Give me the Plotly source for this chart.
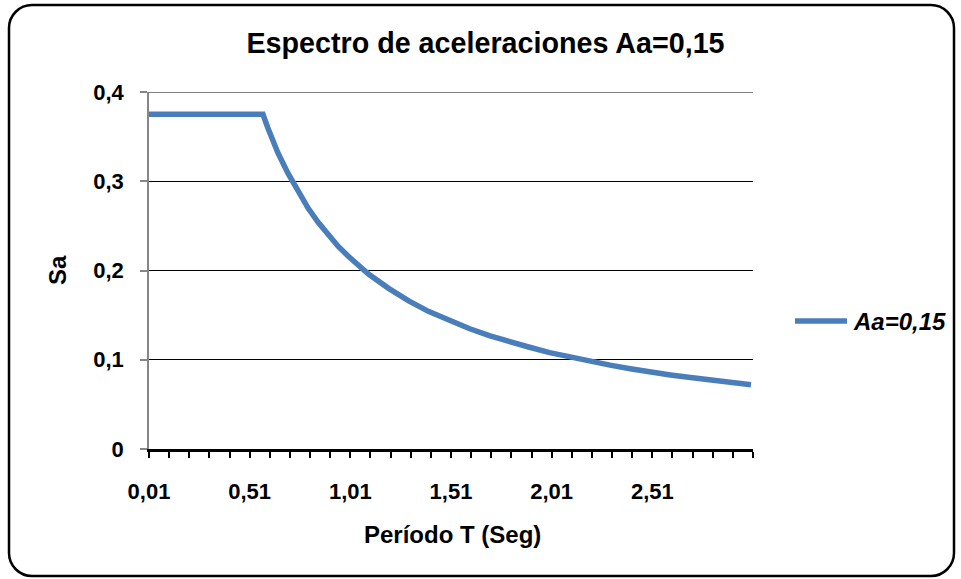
import plotly.graph_objects as go

# Response spectrum, Aa = 0.15
periodo_T = [0.01, 0.576, 0.60, 0.65, 0.70, 0.75, 0.80, 0.85, 0.90, 0.95, 1.00,
             1.10, 1.20, 1.30, 1.40, 1.50, 1.60, 1.70, 1.80, 1.90, 2.00,
             2.10, 2.20, 2.30, 2.40, 2.50, 2.60, 2.70, 2.80, 2.90, 3.00]
sa_values = [0.375, 0.375, 0.360, 0.332, 0.309, 0.288, 0.270, 0.254, 0.240, 0.227, 0.216,
             0.196, 0.180, 0.166, 0.154, 0.144, 0.135, 0.127, 0.120, 0.114, 0.108,
             0.103, 0.098, 0.094, 0.090, 0.086, 0.083, 0.080, 0.077, 0.074, 0.072]
series_name = "Aa=0,15"

x_label_vals = [0.01, 0.51, 1.01, 1.51, 2.01, 2.51]
x_label_text = ["0,01", "0,51", "1,01", "1,51", "2,01", "2,51"]
y_tick_vals = [0, 0.1, 0.2, 0.3, 0.4]
y_tick_text = ["0", "0,1", "0,2", "0,3", "0,4"]

W, H = 961, 579
L, R, T, B = 149, 753, 92, 449  # plot area in pixels
X_END = 3.01

# x ticks every 0.1 s, labelled every 0.5 s
x_tick_vals = [round(0.01 + 0.1 * k, 2) for k in range(31)]
x_tick_text = []
for v in x_tick_vals:
    x_tick_text.append(x_label_text[x_label_vals.index(v)] if v in x_label_vals else "")

FONT = "Liberation Sans, Arial, sans-serif"
BLUE = "#4A7EBB"


def px(xp):
    return (xp - L) / (R - L)


def py(yp):
    return (B - yp) / (B - T)


fig = go.Figure()
fig.add_trace(go.Scatter(
    x=periodo_T, y=sa_values, mode="lines", name=series_name,
    line=dict(color=BLUE, width=5.5),
    showlegend=False,
))

# top gridline at 0,4
fig.add_shape(type="line", xref="paper", yref="y", x0=0, x1=1, y0=0.4, y1=0.4,
              line=dict(color="black", width=1), layer="below")

# rounded border around the chart area
bl, br, bt, bb, rad = 9, 954, 5, 576, 23
k = 0.45
path = (
    f"M {px(bl + rad)} {py(bt)} L {px(br - rad)} {py(bt)} "
    f"C {px(br - rad * k)} {py(bt)} {px(br)} {py(bt + rad * k)} {px(br)} {py(bt + rad)} "
    f"L {px(br)} {py(bb - rad)} "
    f"C {px(br)} {py(bb - rad * k)} {px(br - rad * k)} {py(bb)} {px(br - rad)} {py(bb)} "
    f"L {px(bl + rad)} {py(bb)} "
    f"C {px(bl + rad * k)} {py(bb)} {px(bl)} {py(bb - rad * k)} {px(bl)} {py(bb - rad)} "
    f"L {px(bl)} {py(bt + rad)} "
    f"C {px(bl)} {py(bt + rad * k)} {px(bl + rad * k)} {py(bt)} {px(bl + rad)} {py(bt)} Z"
)
fig.add_shape(type="path", path=path, xref="paper", yref="paper",
              line=dict(color="black", width=2.5), layer="above")

# legend entry
fig.add_shape(type="line", xref="paper", yref="paper",
              x0=px(795), x1=px(847), y0=py(321), y1=py(321),
              line=dict(color=BLUE, width=5.5))
fig.add_annotation(text=f"<b><i>{series_name}</i></b>", xref="paper", yref="paper",
                   x=px(851), y=py(321), xanchor="left", yanchor="middle",
                   showarrow=False, font=dict(family=FONT, size=24, color="black"))

# axis titles
fig.add_annotation(text="<b>Período T (Seg)</b>", xref="paper", yref="paper",
                   x=px(452), y=py(534), xanchor="center", yanchor="middle",
                   showarrow=False, font=dict(family=FONT, size=24, color="black"))
fig.add_annotation(text="<b>Sa</b>", xref="paper", yref="paper",
                   x=px(57), y=py(270), xanchor="center", yanchor="middle",
                   textangle=-90, showarrow=False,
                   font=dict(family=FONT, size=24, color="black"))

fig.update_layout(
    width=W, height=H,
    margin=dict(l=L, r=W - R, t=T, b=H - B, pad=0),
    paper_bgcolor="white", plot_bgcolor="white",
    font=dict(family=FONT, color="black"),
    title=dict(text="<b>Espectro de aceleraciones Aa=0,15</b>",
               xref="container", yref="container",
               x=485.5 / W, y=1 - 43 / H, xanchor="center", yanchor="middle",
               font=dict(family=FONT, size=28.7, color="black")),
    xaxis=dict(
        range=[0.01, X_END], tickmode="array", tickvals=x_tick_vals, ticktext=x_tick_text,
        ticks="outside", ticklen=6, tickwidth=2, tickcolor="black",
        showline=True, linecolor="black", linewidth=2.5,
        showgrid=False, zeroline=False, ticklabelstandoff=15,
        tickfont=dict(family=FONT, size=22, color="black", weight="bold"),
    ),
    yaxis=dict(
        range=[0, 0.4], tickmode="array", tickvals=y_tick_vals, ticktext=y_tick_text,
        ticks="outside", ticklen=7, tickwidth=1.5, tickcolor="#868686",
        showline=True, linecolor="#868686", linewidth=1.5,
        showgrid=True, gridcolor="black", gridwidth=1,
        zeroline=False, ticklabelstandoff=12,
        tickfont=dict(family=FONT, size=22, color="black", weight="bold"),
    ),
)

fig.write_html("out.html")
